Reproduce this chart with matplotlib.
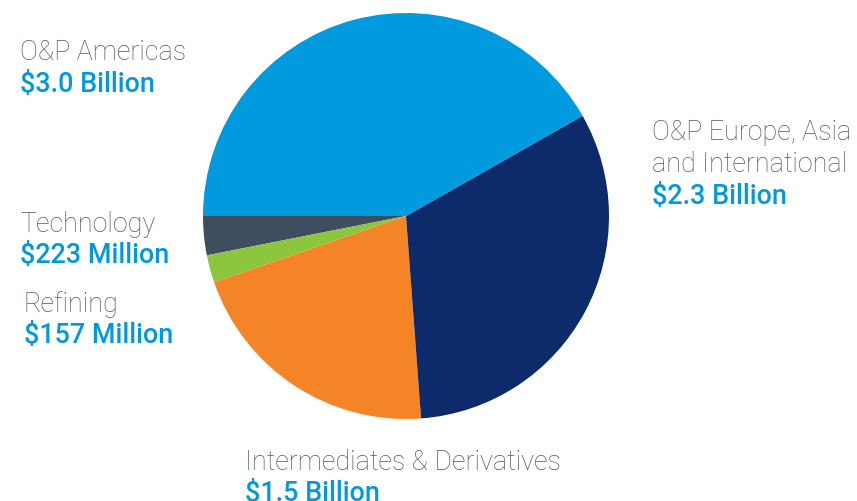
import matplotlib
matplotlib.use("Agg")
import matplotlib.pyplot as plt

# Data (counterclockwise from 9 o'clock)
segments = ["Technology", "Refining", "Intermediates & Derivatives",
            "O&P Europe, Asia\nand International", "O&P Americas"]
values_billion = [0.223, 0.157, 1.5, 2.3, 3.0]
value_labels = ["$223 Million", "$157 Million", "$1.5 Billion", "$2.3 Billion", "$3.0 Billion"]
colors = ["#3E4E5E", "#8CC63F", "#F58426", "#0D2A6A", "#009ADE"]

W, H = 857, 501
fig = plt.figure(figsize=(W / 100, H / 100), dpi=100)
ax = fig.add_axes([0, 0, 1, 1])

ax.pie(values_billion, colors=colors, startangle=180, counterclock=True,
       center=(406, H - 216), radius=203, frame=True,
       wedgeprops=dict(linewidth=0))
ax.set_xlim(0, W)
ax.set_ylim(0, H)
ax.set_aspect("equal")
ax.axis("off")

name_color = "#4B5B6B"
val_color = "#0099DD"
fam = ["Roboto", "DejaVu Sans"]
fs = 19.4

# label positions (pixel coords: x left, y of name line center)
label_pos = {
    "Technology": (20, 224),
    "Refining": (24, 304),
    "Intermediates & Derivatives": (245, 463),
    "O&P Europe, Asia\nand International": (652, 132),
    "O&P Americas": (20, 52),
}
line_h = 32
for seg, vlab in zip(segments, value_labels):
    x, y = label_pos[seg]
    lines = seg.split("\n")
    for i, ln in enumerate(lines):
        ax.text(x, H - (y + i * line_h), ln, fontsize=fs, family=fam,
                fontweight="light", color=name_color, ha="left", va="center")
    vy = y + len(lines) * line_h - (2 if seg.startswith("Inter") else 0)
    ax.text(x, H - vy, vlab, fontsize=fs, family=fam, fontweight="medium",
            color=val_color, ha="left", va="center")

fig.savefig("out.png", dpi=100, facecolor="white")
